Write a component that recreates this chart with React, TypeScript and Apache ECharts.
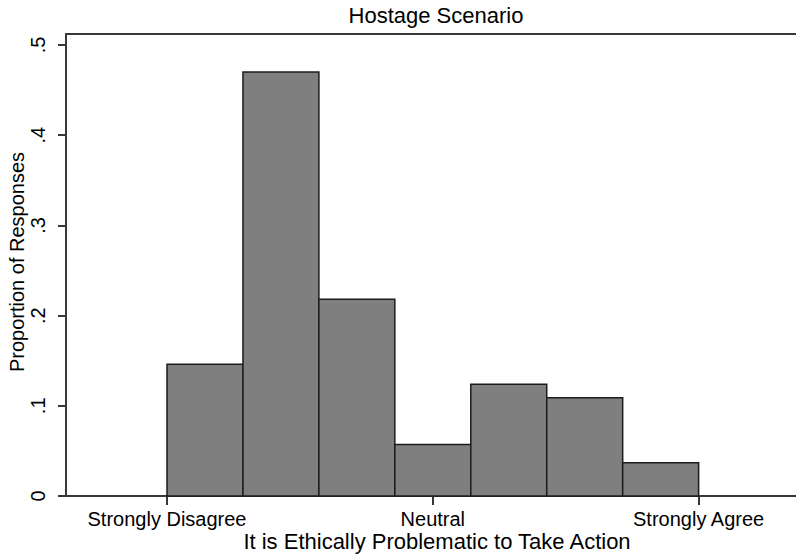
import React, { useEffect, useRef } from "react";
import * as echarts from "echarts";

const TITLE = "Hostage Scenario";
const X_TITLE = "It is Ethically Problematic to Take Action";
const Y_TITLE = "Proportion of Responses";

// Histogram: 7 equal bins spanning response scale 1..7
const BIN_START = 1;
const BIN_END = 7;
const proportions = [0.146, 0.47, 0.218, 0.057, 0.124, 0.109, 0.037];

const xTickValues = [1, 4, 7];
const xTickLabels = ["Strongly Disagree", "Neutral", "Strongly Agree"];
const yTickValues = [0, 0.1, 0.2, 0.3, 0.4, 0.5];
const yTickLabels = ["0", ".1", ".2", ".3", ".4", ".5"];

const FONT = "'Liberation Sans', Arial, sans-serif";
const X_MIN = -0.14;
const X_MAX = 8.099;

export default function App() {
  const ref = useRef<HTMLDivElement>(null);
  useEffect(() => {
    if (!ref.current) return;
    const chart = echarts.init(ref.current, undefined, { renderer: "svg" });
    const binW = (BIN_END - BIN_START) / proportions.length;
    const data = proportions.map((v, i) => [
      BIN_START + i * binW,
      BIN_START + (i + 1) * binW,
      v,
    ]);
    const lineStyle = { color: "#383838", width: 2 };
    chart.setOption({
      animation: false,
      backgroundColor: "#ffffff",
      textStyle: { fontFamily: FONT },
      grid: {
        left: 66,
        top: 34,
        right: 0,
        bottom: 60,
        show: false,
      },
      xAxis: [
        {
          type: "value",
          min: X_MIN,
          max: X_MAX,
          axisLine: { show: true, onZero: false, lineStyle },
          axisTick: {
            show: true,
            customValues: xTickValues,
            length: 9,
            lineStyle,
          },
          axisLabel: {
            customValues: xTickValues,
            formatter: (v: number) => xTickLabels[xTickValues.indexOf(v)] ?? "",
            fontSize: 20,
            color: "#000",
            fontFamily: FONT,
            margin: 13,
          },
          splitLine: { show: false },
        },
        {
          type: "value",
          position: "top",
          min: X_MIN,
          max: X_MAX,
          axisLine: { show: true, onZero: false, lineStyle },
          axisTick: { show: false },
          axisLabel: { show: false },
          splitLine: { show: false },
        },
      ],
      yAxis: {
        type: "value",
        min: 0,
        max: 0.5122,
        axisLine: { show: true, onZero: false, lineStyle },
        axisTick: {
          show: true,
          customValues: yTickValues,
          length: 8,
          lineStyle,
        },
        axisLabel: {
          customValues: yTickValues,
          formatter: (v: number) => yTickLabels[yTickValues.findIndex((t) => Math.abs(t - v) < 1e-9)] ?? "",
          rotate: 90,
          fontSize: 20,
          color: "#000",
          fontFamily: FONT,
          margin: 18,
        },
        splitLine: { show: false },
      },
      graphic: [
        {
          type: "text",
          x: 436,
          y: 15,
          style: {
            text: TITLE,
            fontSize: 22,
            fontFamily: FONT,
            fill: "#000",
            textAlign: "center",
            textVerticalAlign: "middle",
          },
        },
        {
          type: "text",
          x: 437,
          y: 541,
          style: {
            text: X_TITLE,
            fontSize: 22,
            fontFamily: FONT,
            fill: "#000",
            textAlign: "center",
            textVerticalAlign: "middle",
          },
        },
        {
          type: "text",
          x: 17,
          y: 262,
          rotation: Math.PI / 2,
          style: {
            text: Y_TITLE,
            fontSize: 20,
            fontFamily: FONT,
            fill: "#000",
            textAlign: "center",
            textVerticalAlign: "middle",
          },
        },
      ],
      series: [
        {
          type: "custom",
          xAxisIndex: 0,
          data,
          encode: { x: [0, 1], y: 2 },
          renderItem: (params: any, api: any) => {
            const lo = api.value(0);
            const hi = api.value(1);
            const h = api.value(2);
            const p0 = api.coord([lo, h]);
            const p1 = api.coord([hi, 0]);
            return {
              type: "rect",
              shape: { x: p0[0], y: p0[1], width: p1[0] - p0[0], height: p1[1] - p0[1] },
              style: { fill: "#7f7f7f", stroke: "#1c1c1c", lineWidth: 1.5 },
            };
          },
        },
      ],
    });
    return () => chart.dispose();
  }, []);
  return (
    <div
      ref={ref}
      style={{ position: "absolute", left: 0, top: 0, width: 796, height: 556 }}
    />
  );
}
